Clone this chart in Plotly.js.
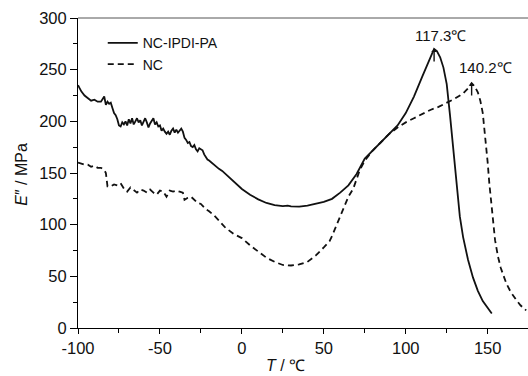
<!DOCTYPE html>
<html>
<head>
<meta charset="utf-8">
<script src="https://cdn.plot.ly/plotly-3.0.1.min.js"></script>
<style>html,body{margin:0;padding:0;background:#fff;}#chart{width:528px;height:376px;}</style>
</head>
<body>
<div id="chart"></div>
<script>
// NC-IPDI-PA (solid)
var solidT = [-100,-98,-96,-94,-92,-90,-88,-86,-85,-84,-83,-82,-81,-80,-79,-78,-77,-76,-75,-74,-73,-72,-71,-70,-69,-68,-67,-66,-65,-64,-63,-62,-61,-60,-59,-58,-57,-56,-55,-54,-53,-52,-51,-50,-49,-48,-47,-46,-45,-44,-43,-42,-41,-40,-39,-38,-37,-36,-35,-34,-33,-32,-31,-30,-29,-28,-27,-26,-25,-24,-23,-22,-21,-20,-18,-16,-14,-12,-10,-8,-6,-4,-2,0,5,10,15,20,25,28,30,35,40,45,50,55,60,65,70,75,80,85,90,95,100,105,110,114,117.3,119,121,123,125,127,129,131,133,135,138,141,144,147,150,152.5];
var solidE = [235,229,225,222,220,221,219,219,221,224,216,219,217,218,213,208,206,202,196,195,199,197,200,196,202,198,203,197,200,203,199,201,196,199,203,199,194,198,201,203,197,199,195,196,191,193,190,188,190,187,191,193,189,192,189,191,193,190,184,182,179,180,176,175,177,173,171,174,173,172,168,165,163,162,159,156,154,152,149,146,143,140,137,134.5,129,124.5,121,119,118,118.5,117.7,117.5,118.5,120,122,125,131,138,149,164,172,179,188,196,208,224,243,257,270,268,262,252,236,206,175,137,108,88,66,49,36,26,19,14];
// NC (dashed)
var dashT = [-100,-98,-96,-94,-92,-90,-88,-86,-84,-83,-82.5,-82,-80,-78,-76,-74,-72,-70,-68,-66,-64,-62,-60,-58,-56,-54,-52,-50,-48,-46,-44,-42,-40,-38,-36,-35,-33,-31,-29,-27,-25,-22,-20,-17,-14,-10,-5,0,5,10,15,20,25,30,35,40,45,50,53.5,55,60,65,68,70,72,75,80,85,90,95,100,105,110,115,120,125,130,135,138,140.2,142,144,145.5,147,148,149,150,151,152,153,154.5,156.3,158,161.4,164,167.5,170,173.5];
var dashE = [160,159,158,158,156,157,155,155,153,150,142,137,137,139,138,140,135,132,136,133,131,134,133,131,134,131,129,133,132,127,133,132,133,132,131,124,126,127,124,121,120,115,113,109,104,97,91,87,80,74,68,64,61,60.5,61.5,64,70,78,84,89,108,127,135,145,153,162,172,180,188,194,199,203,207,211,214,218,222,227,232,237,234,228,220,208,193,177,160,140,122,104,85,69,58,43,35,27,22,17];
var seriesNames = ['NC-IPDI-PA', 'NC'];
var peakT = [117.3, 140.2];
var peakE = [270, 237];
var peakLabels = ['117.3℃', '140.2℃'];
var xTickVals = [-100, -50, 0, 50, 100, 150];
var xTickText = ['-100', '-50', '0', '50', '100', '150'];
var yTickVals = [0, 50, 100, 150, 200, 250, 300];

var FONT = '"Liberation Sans", Arial, sans-serif';
var ink = '#111';

var traces = [
  {x: solidT, y: solidE, name: seriesNames[0], type: 'scatter', mode: 'lines',
   line: {color: ink, width: 1.8}},
  {x: dashT, y: dashE, name: seriesNames[1], type: 'scatter', mode: 'lines',
   line: {color: ink, width: 1.8, dash: '6px,4px'}}
];

// label offsets (layout only)
var labelDx = [4, 8.5];
var labelDy = [13, 15];
var annotations = [];
for (var i = 0; i < peakT.length; i++) {
  annotations.push({x: peakT[i], y: peakE[i], xref: 'x', yref: 'y', text: '',
    showarrow: true, arrowhead: 1, arrowsize: 0.7, arrowwidth: 1.4, arrowcolor: ink,
    ax: 0, ay: 14, standoff: 0});
  annotations.push({x: peakT[i] + labelDx[i], y: peakE[i] + labelDy[i], xref: 'x', yref: 'y',
    text: peakLabels[i], showarrow: false, xanchor: 'center', yanchor: 'middle',
    font: {family: FONT, size: 15, color: ink}});
}
annotations.push({xref: 'paper', yref: 'paper', x: -0.125, y: 0.497, textangle: -90,
  text: '<i>E</i>″ / MPa', showarrow: false, xanchor: 'center', yanchor: 'middle',
  font: {family: FONT, size: 16, color: ink}});
annotations.push({xref: 'paper', yref: 'paper', x: 0.462, y: -0.122,
  text: '<i>T</i> / ℃', showarrow: false, xanchor: 'center', yanchor: 'middle',
  font: {family: FONT, size: 16, color: ink}});

var layout = {
  width: 528, height: 376,
  margin: {l: 78, r: 0, t: 18, b: 48},
  paper_bgcolor: '#fff', plot_bgcolor: '#fff',
  showlegend: true,
  legend: {x: 0.055, y: 0.97, xanchor: 'left', yanchor: 'top', bgcolor: 'rgba(0,0,0,0)',
    font: {family: FONT, size: 14, color: ink}, tracegroupgap: 0},
  xaxis: {range: [-100, 174.6], tickmode: 'array', tickvals: xTickVals, ticktext: xTickText,
    ticks: 'outside', ticklen: 5, tickwidth: 1, tickcolor: '#000',
    showline: true, linecolor: '#000', linewidth: 1, showgrid: false, zeroline: false,
    tickfont: {family: FONT, size: 16.5, color: ink},
    minor: {tickmode: 'linear', tick0: -100, dtick: 25, ticks: 'outside', ticklen: 4, tickcolor: '#000', showgrid: false}},
  yaxis: {range: [0, 300], tickmode: 'array', tickvals: yTickVals,
    ticks: 'outside', ticklen: 7, tickwidth: 1, tickcolor: '#000',
    showline: true, linecolor: '#000', linewidth: 1, showgrid: false, zeroline: false,
    tickfont: {family: FONT, size: 16.5, color: ink},
    minor: {tickmode: 'linear', tick0: 0, dtick: 25, ticks: 'outside', ticklen: 4, tickcolor: '#000', showgrid: false}},
  shapes: [{type: 'line', xref: 'paper', yref: 'paper', x0: 0, x1: 1, y0: 1, y1: 1,
    line: {color: '#555', width: 1}}],
  annotations: annotations
};

Plotly.newPlot('chart', traces, layout, {staticPlot: true, displayModeBar: false});
</script>
</body>
</html>
